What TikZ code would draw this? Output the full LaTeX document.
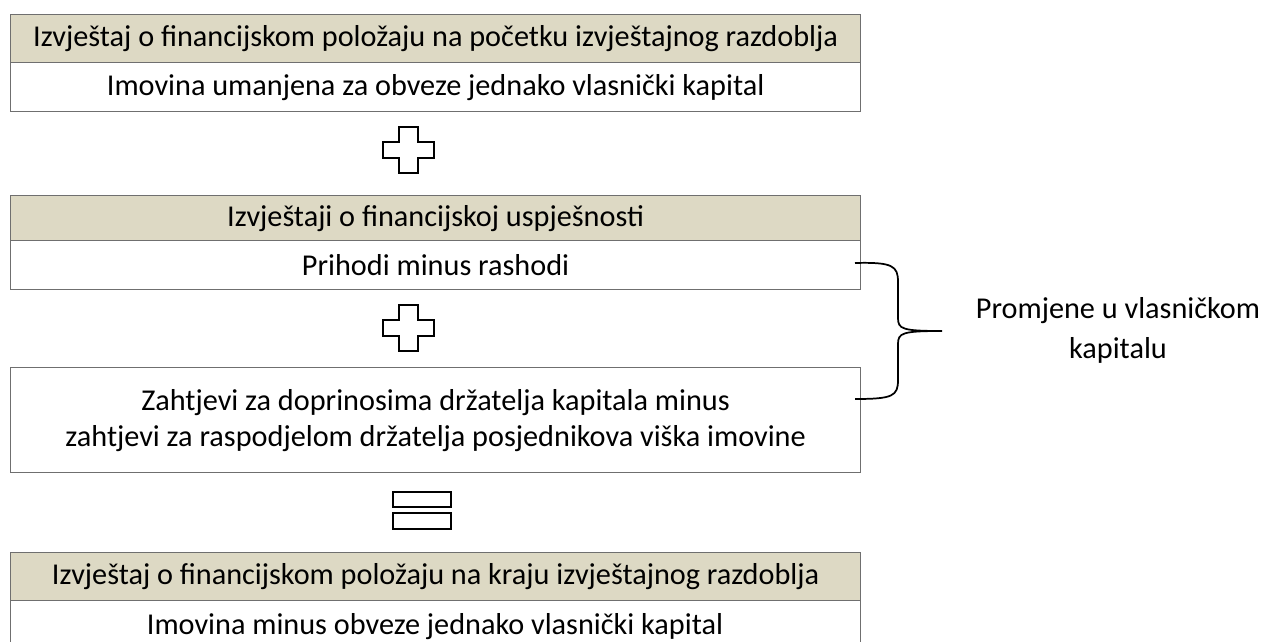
\documentclass[tikz,border=0pt]{standalone}
\usepackage{fontspec}
\setmainfont{Carlito}
\definecolor{hdr}{HTML}{DDD9C4}
\definecolor{bord}{HTML}{6F6F6F}
\begin{document}
\begin{tikzpicture}[x=0.75pt,y=-0.75pt,
  hdrbox/.style={draw=bord,line width=0.9pt,fill=hdr,minimum width=637.5pt,minimum height=36pt,inner sep=0pt,anchor=north west,font=\fontsize{22.7}{27}\selectfont},
  rowbox/.style={draw=bord,line width=0.9pt,fill=white,minimum width=637.5pt,minimum height=36.75pt,inner sep=0pt,anchor=north west,font=\fontsize{22.7}{27}\selectfont},
  symb/.style={draw=black,line width=1.6pt,fill=white},
  lbl/.style={font=\fontsize{22.7}{30}\selectfont,align=center}]
\useasboundingbox (0,0) rectangle (1264,642);
\clip (0,0) rectangle (1264,642);
% box 1
\node[hdrbox] (h1) at (10,14) {Izvještaj o financijskom položaju na početku izvještajnog razdoblja};
\node[rowbox] (r1) at (10,62) {Imovina umanjena za obveze jednako vlasnički kapital};
% plus 1
\draw[symb] (399,127) -- (418,127) -- (418,142) -- (434,142) -- (434,158) -- (418,158) -- (418,173) -- (399,173) -- (399,158) -- (383,158) -- (383,142) -- (399,142) -- cycle;
% box 2
\node[hdrbox,minimum height=34.5pt] (h2) at (10,195) {Izvještaji o financijskoj uspješnosti};
\node[rowbox] (r2) at (10,240) {Prihodi minus rashodi};
% plus 2
\draw[symb] (399,305) -- (418,305) -- (418,320) -- (434,320) -- (434,336) -- (418,336) -- (418,351) -- (399,351) -- (399,336) -- (383,336) -- (383,320) -- (399,320) -- cycle;
% box 3
\node[rowbox,minimum height=78.75pt,font=\fontsize{22.7}{27}\selectfont,align=center] (r3) at (10,367) {Zahtjevi za doprinosima držatelja kapitala minus\\zahtjevi za raspodjelom držatelja posjednikova viška imovine};
% equals
\draw[symb] (393,492) rectangle (451,507);
\draw[symb] (393,513) rectangle (451,529);
% box 4
\node[hdrbox] (h4) at (10,552) {Izvještaj o financijskom položaju na kraju izvještajnog razdoblja};
\node[rowbox,minimum height=45pt,anchor=north west] (r4) at (10,600) {};
\node[font=\fontsize{22.7}{27}\selectfont] (t4) at (435,627) {Imovina minus obveze jednako vlasnički kapital};
% brace
\coordinate (bt) at (855,263);
\coordinate (bb) at (855,399);
\coordinate (tip) at (942,331);
\draw[line width=1.3pt] (bt) .. controls (893,262) and (898,266) .. (898,282) -- (898,318) .. controls (898,329) and (902,331) .. (tip)
  .. controls (902,331) and (898,333) .. (898,344) -- (898,380) .. controls (898,396) and (893,399) .. (bb);
\node[lbl] (ch) at (1118,330) {Promjene u vlasničkom\\kapitalu};
\end{tikzpicture}
\end{document}
